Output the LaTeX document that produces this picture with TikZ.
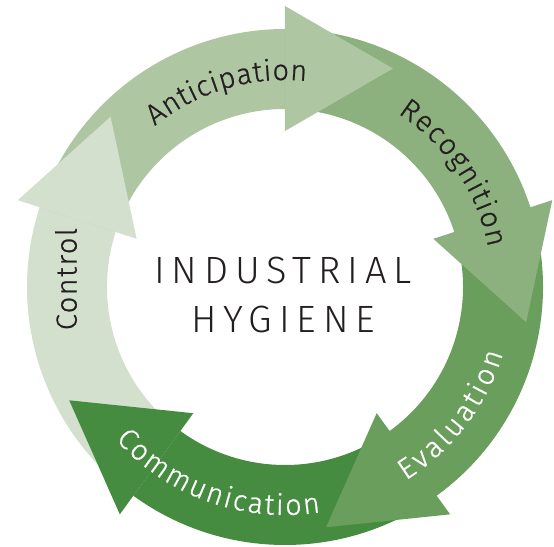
\documentclass[tikz,border=0pt]{standalone}
\usepackage{fontspec}
\setmainfont{Fira Sans Light}
\newfontfamily\titlefont{Fira Sans Light}[LetterSpace=18]
\newfontfamily\labelfont{Fira Sans Light}[FakeBold=0.8]
\newfontfamily\ctrlfont{Fira Sans Light}[FakeBold=0.8,LetterSpace=5]
\usetikzlibrary{calc,decorations.text}

\definecolor{antcol}{HTML}{AFC6A3}
\definecolor{reccol}{HTML}{8CB07E}
\definecolor{evacol}{HTML}{6A9E5C}
\definecolor{comcol}{HTML}{458C41}
\definecolor{concol}{HTML}{D4E0CE}
\definecolor{inkcol}{HTML}{231F20}

\begin{document}
\begin{tikzpicture}[x=1pt,y=1pt,
  arclabel/.style={decorate, decoration={text along path,
      text align={fit to path}, text color=#1}},
  arclabel/.default=inkcol]
\useasboundingbox (-285,-259) rectangle (269,287);
\def\rin{178pt}
\def\rout{258pt}
\def\lsize{\labelfont\fontsize{29}{29}\selectfont}
% ring segments, each from the previous arrow's base to its own base
\foreach \a/\b/\c in {234/162/concol, 162/90/antcol, 90/18/reccol, 18/-54/evacol, -54/-126/comcol}{
  \fill[\c] (\a:\rout) arc[start angle=\a, end angle=\b, radius=\rout]
    -- (\b:\rin) arc[start angle=\b, end angle=\a, radius=\rin] -- cycle;
}
% arrow heads on top
\foreach \b/\c in {162/concol, 90/antcol, 18/reccol, -54/evacol, -126/comcol}{
  \pgfmathsetmacro\t{\b-90}
  \fill[\c] (\b:156pt) -- (\b:281pt) -- ($(\b:218.5pt)+(\t:108pt)$) -- cycle;
}
% labels along the ring
\path[arclabel] (129:207pt) arc[start angle=129, end angle=84, radius=207pt]
  [decoration={text={|\lsize|Anticipation}}];
\path[arclabel] (57:207pt) arc[start angle=57, end angle=11, radius=207pt]
  [decoration={text={|\lsize|Recognition}}];
\path[arclabel=white] (-58:228pt) arc[start angle=-58, end angle=-17, radius=228pt]
  [decoration={text={|\lsize|Evaluation}}];
\path[arclabel=white] (222:228pt) arc[start angle=222, end angle=279, radius=228pt]
  [decoration={text={|\lsize|Communication}}];
\node[rotate=90, inner sep=0pt, text=inkcol, font=\ctrlfont\fontsize{29}{29}\selectfont]
  (control) at (-219,8) {Control};
% centre title
\node[anchor=base, inner sep=0pt, text=inkcol, font=\titlefont\fontsize{38}{38}\selectfont]
  (industrial) at (-2,4) {INDUSTRIAL};
\node[anchor=base, inner sep=0pt, text=inkcol, font=\titlefont\fontsize{38}{38}\selectfont]
  (hygiene) at (-2,-45) {HYGIENE};
\end{tikzpicture}
\end{document}
